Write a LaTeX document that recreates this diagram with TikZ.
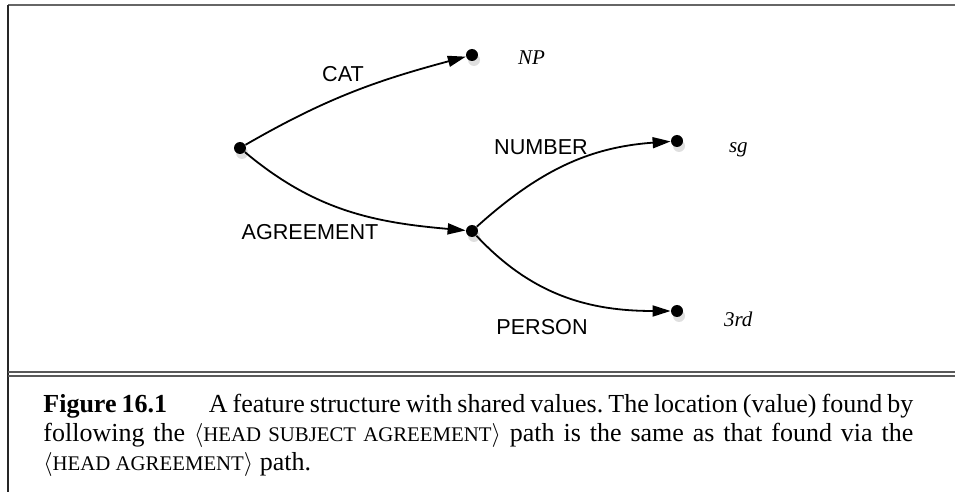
\documentclass[tikz,border=0pt]{standalone}
\usepackage{fontspec}
\setmainfont{Liberation Serif}
\setsansfont{Liberation Sans}
\usepackage{tikz}
\usetikzlibrary{positioning, arrows.meta, shadows}

\newcommand{\fpath}[1]{{\fontsize{10.4pt}{14.5pt}\selectfont #1}}
\newcommand{\capline}[1]{\hbox to 435pt{#1}}

\begin{document}
\begin{tikzpicture}[x=0.5pt, y=-0.5pt, every node/.style={font=\fontsize{10.8pt}{12pt}\sffamily},
  dot/.style={circle, fill=black, inner sep=0pt, minimum size=6pt, drop shadow={shadow xshift=1pt, shadow yshift=-2.5pt, opacity=0.25}},
  val/.style={anchor=base west, font=\rmfamily\itshape\fontsize{10.5pt}{12pt}\selectfont},
  lbl/.style={anchor=base},
  arc/.style={-{Triangle[length=9pt, width=5.5pt]}, line width=0.9pt}]
  \useasboundingbox (0,0) rectangle (955,492);
  % frame
  \draw[line width=1pt, black!60] (8,5) -- (955,5);
  \draw[line width=1pt, black!85] (8,5) -- (8,492);
  \draw[line width=1pt, black!65] (8,372.5) -- (955,372.5) (8,376.5) -- (955,376.5);
  % feature structure
  \node[dot] (root) at (240,148) {};
  \node[dot] (np) at (472,55) {};
  \node[dot] (agr) at (472,231) {};
  \node[dot] (sg) at (677,141) {};
  \node[dot] (third) at (677,311) {};
  \node[val] (npval) at (511,65) {NP};
  \node[val] (sgval) at (722,153) {sg};
  \node[val] (thirdval) at (717,327) {3rd};
  \draw[arc] (root) to[out=30, in=195] (np);
  \draw[arc] (root) to[out=-40, in=175] (agr);
  \draw[arc] (agr) to[out=42, in=184] (sg);
  \draw[arc] (agr) to[out=-47, in=180] (third);
  \node[lbl] (cat) at (343,82) {CAT};
  \node[lbl] (agreement) at (310,240) {AGREEMENT};
  \node[lbl] (number) at (541,155) {NUMBER};
  \node[lbl] (person) at (542,335) {PERSON};
  % caption (base = last line)
  \node[anchor=base west, inner sep=0pt, align=left, font=\rmfamily\fontsize{13pt}{14.5pt}\selectfont\frenchspacing] (caption) at (43,471)
    {\capline{\textbf{Figure 16.1}\hskip 1.6em A feature structure with shared values. The location (value) found by}\\
     \capline{following the $\langle$\fpath{HEAD SUBJECT AGREEMENT}$\rangle$ path is the same as that found via the}\\
     $\langle$\fpath{HEAD AGREEMENT}$\rangle$ path.};
\end{tikzpicture}
\end{document}
